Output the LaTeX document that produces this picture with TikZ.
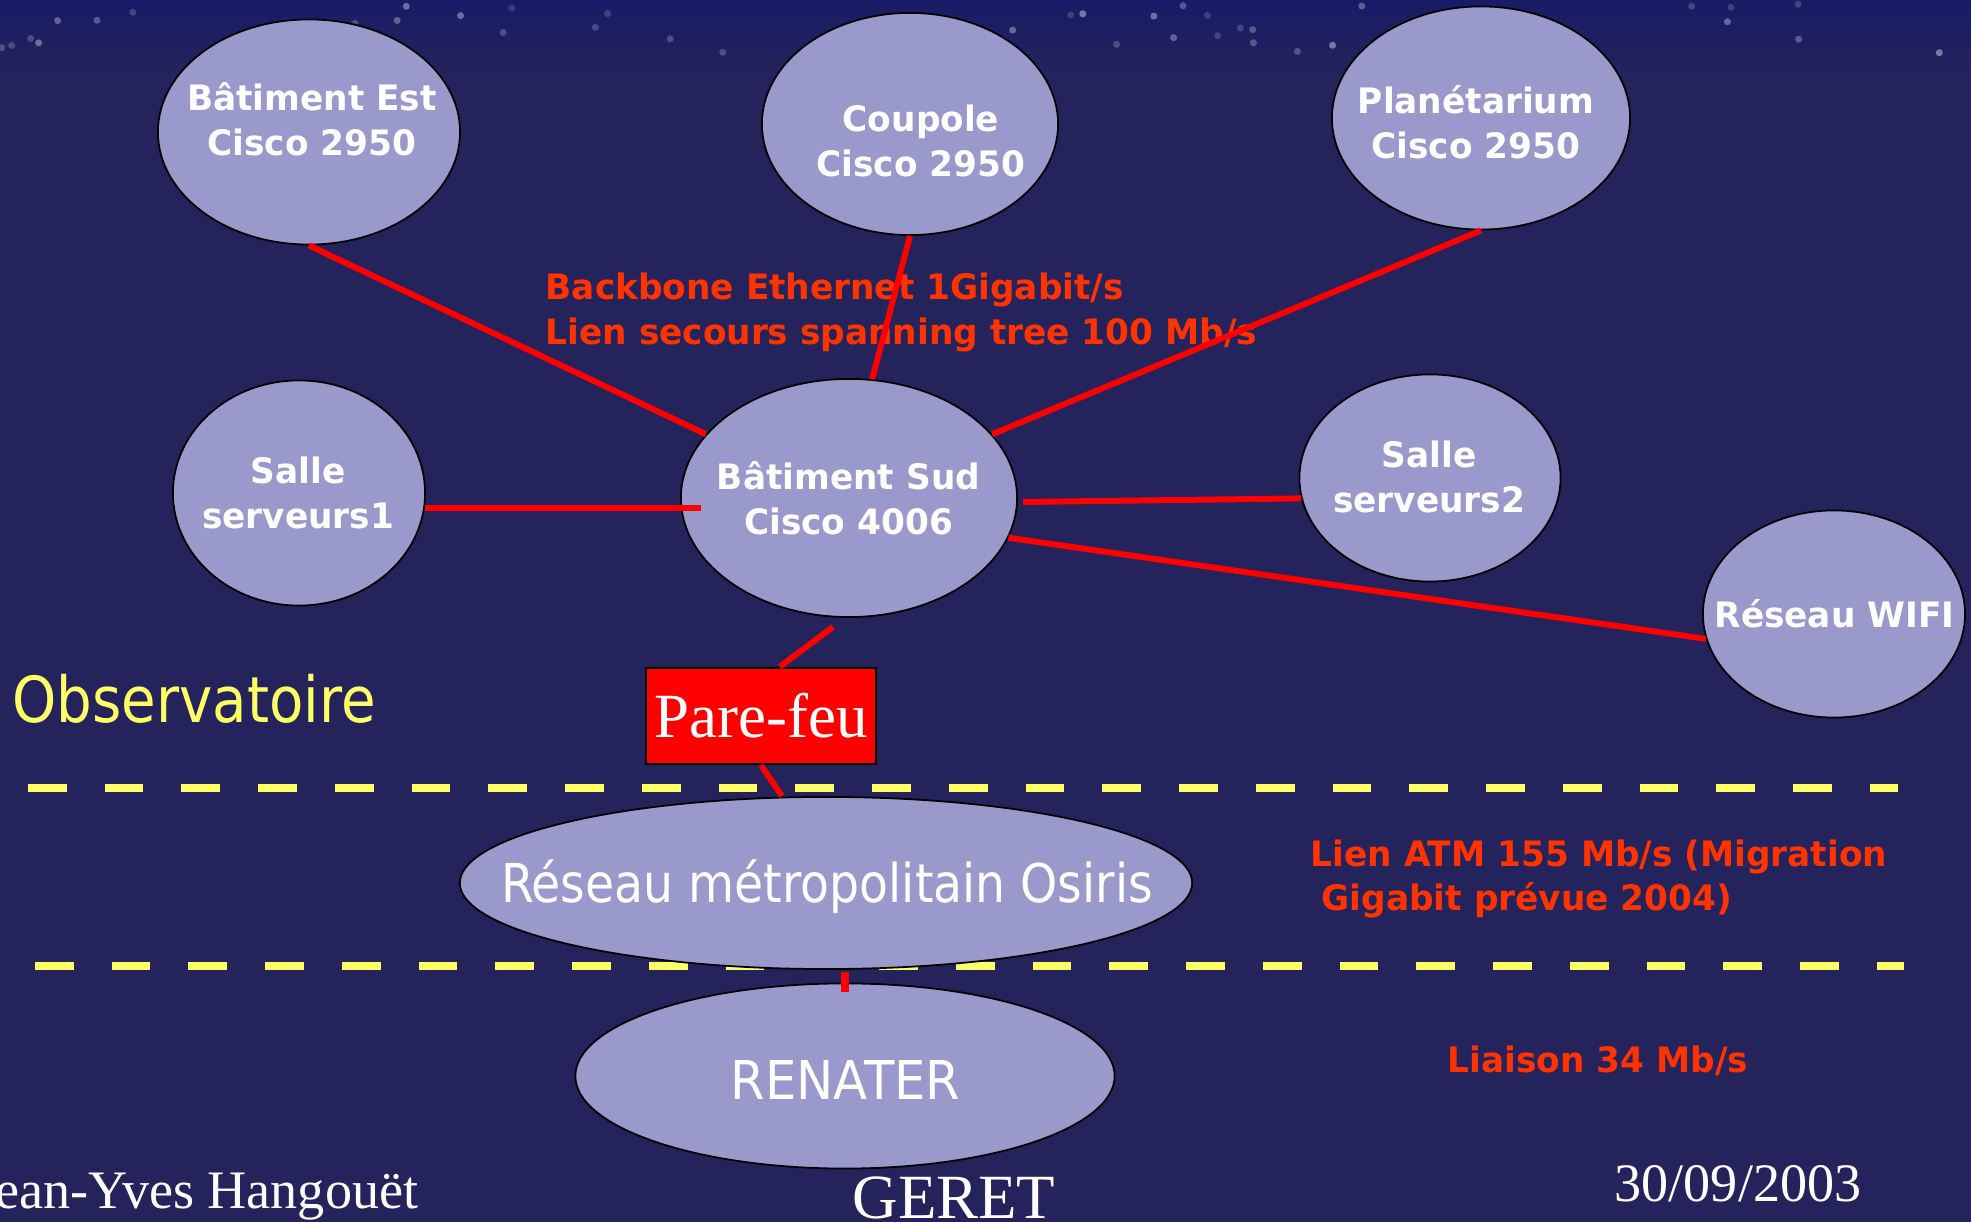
\documentclass[tikz,border=0pt]{standalone}
\usepackage{fontspec}
\setmainfont{Liberation Serif}
\newfontfamily\tah[FakeStretch=0.98]{DejaVu Sans}
\newfontfamily\tahr[FakeStretch=0.885]{DejaVu Sans}
\newfontfamily\tahw[FakeStretch=0.93]{DejaVu Sans}
\usetikzlibrary{shapes.geometric,calc}
\definecolor{bg}{RGB}{36,35,92}
\definecolor{skytop}{RGB}{24,28,102}
\definecolor{lav}{RGB}{153,153,204}
\definecolor{lred}{RGB}{255,51,0}
\definecolor{linkred}{RGB}{255,0,0}
\definecolor{yel}{RGB}{255,255,102}
\tikzset{
  ell/.style={ellipse, draw=black, line width=0.5pt, fill=lav, inner sep=0pt},
  ntext/.style={text=white, font=\tah\bfseries\fontsize{9.96}{12.8}\selectfont, align=center, inner sep=0pt},
  lbl/.style={text=lred, font=\tah\bfseries\fontsize{9.96}{12.8}\selectfont, inner sep=0pt, anchor=base west},
  big/.style={text=white, font=\tahr\fontsize{15.2}{18}\selectfont, inner sep=0pt, anchor=base},
  link/.style={draw=linkred, line width=1.7pt},
  sepline/.style={draw=yel, line width=2.1pt, dash pattern=on 0.387cm off 0.38cm},
  foot/.style={text=white, font=\fontsize{15.4}{18}\selectfont, inner sep=0pt, anchor=base},
}
\begin{document}
\begin{tikzpicture}[x=0.01cm, y=-0.01cm]
\useasboundingbox (0,0) rectangle (1971,1222);
\fill[bg] (0,0) rectangle (1971,1222);
\shade[top color=skytop, bottom color=bg] (0,0) rectangle (1971,75);
\pgfmathsetseed{11}
\foreach \k in {1,...,45}{
  \pgfmathsetmacro\sx{rnd*1971}
  \pgfmathsetmacro\sy{4+rnd*50}
  \pgfmathsetmacro\so{0.12+0.3*rnd}
  \fill[white, opacity=\so] (\sx,\sy) circle (1.0pt);
}
% separators
\draw[sepline] (28,788) -- (1898,788);
\draw[sepline] (35,966) -- (1904,966);
% ellipses
\node[ell, minimum width=3.02cm, minimum height=2.25cm] (est) at (309,132) {};
\node[ell, minimum width=2.96cm, minimum height=2.22cm] (coupole) at (910,124) {};
\node[ell, minimum width=2.98cm, minimum height=2.23cm] (plan) at (1481,118) {};
\node[ell, minimum width=2.52cm, minimum height=2.25cm] (s1) at (299,493) {};
\node[ell, minimum width=3.36cm, minimum height=2.38cm] (sud) at (849,498) {};
\node[ell, minimum width=2.61cm, minimum height=2.07cm] (s2) at (1430,478) {};
\node[ell, minimum width=2.62cm, minimum height=2.07cm] (wifi) at (1834,614) {};
\node[ell, minimum width=7.32cm, minimum height=1.72cm] (osiris) at (826,883) {};
\node[ell, minimum width=5.39cm, minimum height=1.85cm] (renater) at (845,1076) {};
\node[rectangle, draw=black, line width=0.8pt, fill=linkred, minimum width=2.3cm, minimum height=0.96cm, inner sep=0pt, text=white, font=\fontsize{17.9}{20}\selectfont] (pf) at (761,716) {Pare-feu};
% node texts
\node[ntext] (estT) at (312,119.5) {Bâtiment Est\\Cisco 2950};
\node[ntext] (coupT) at (921,141) {Coupole\\Cisco 2950};
\node[ntext] (planT) at (1476,122) {Planétarium\\Cisco 2950};
\node[ntext] (s1T) at (298,493) {Salle\\serveurs1};
\node[ntext] (sudT) at (848.5,498.5) {Bâtiment Sud\\Cisco 4006};
\node[ntext] (s2T) at (1429,477) {Salle\\serveurs2};
\node[ntext, anchor=base] (wifiT) at (1834.5,628) {Réseau WIFI};
\node[big] (osirisT) at (827,903) {Réseau métropolitain Osiris};
\node[big, font=\tahw\fontsize{15.2}{18}\selectfont] (renaterT) at (845.5,1100) {RENATER};
\node[text=yel, font=\tahr\fontsize{18.07}{20}\selectfont, inner sep=0pt, anchor=base west] (obs) at (12,723) {Observatoire};
% labels
\node[lbl] (bb1) at (545,300) {Backbone Ethernet 1Gigabit/s};
\node[lbl] (bb2) at (545,345) {Lien secours spanning tree 100 Mb/s};
\node[lbl] (atm1) at (1310,867) {Lien ATM 155 Mb/s (Migration};
\node[lbl] (atm2) at (1321,911) {Gigabit prévue 2004)};
\node[lbl] (liaison) at (1447,1073) {Liaison 34 Mb/s};
% footer
\node[foot, anchor=base east] (author) at (419,1209) {Jean-Yves Hangouët};
\node[foot, font=\fontsize{17.9}{20}\selectfont] (geret) at (954,1219) {GERET};
\node[foot] (date) at (1738,1202) {30/09/2003};
% connectors
\draw[link] (est.south) -- (sud.156);
\draw[link] (coupole.south) -- (sud.79);
\draw[link] (plan.south) -- (sud.24);
\draw[link] (s1.-7) -- ($(sud.west |- s1.-7)+(21,0)$);
\draw[link] ($(sud.east)+(5,4)$) -- (s2.189);
\draw[link] (sud.-14) -- (wifi.191);
\draw[link] ($(sud.south)+(-16,9)$) -- ($(pf.north)+(19,0)$);
\draw[link] (pf.south) -- ($(osiris.north)+(-44,0)$);
\draw[link, line width=2.3pt] ($(renater.north |- osiris.south)+(0,2)$) -- ($(renater.north)+(0,9)$);
\end{tikzpicture}
\end{document}
